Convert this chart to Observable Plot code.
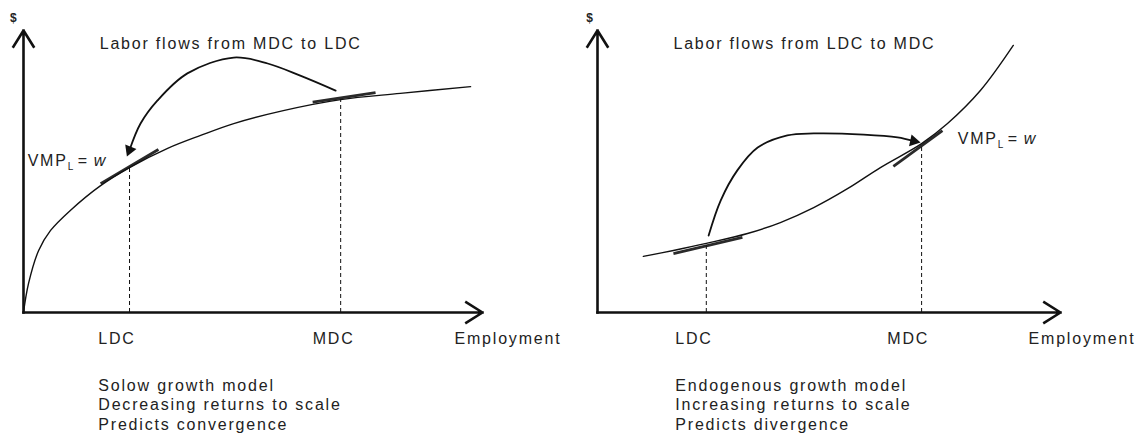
<!DOCTYPE html>
<html>
<head>
<meta charset="utf-8">
<script src="https://cdn.jsdelivr.net/npm/d3@7"></script>
<script src="https://cdn.jsdelivr.net/npm/@observablehq/plot@0.6"></script>
<style>
  html, body { margin: 0; padding: 0; background: #fff; }
  #row { display: flex; width: 1144px; height: 443px; }
</style>
</head>
<body>
<div id="row"></div>
<script>
// ---------- Data (units: employment 0–100 along x, $ 0–100 along y) ----------
const countries = ["LDC", "MDC"];

// Left panel: Solow growth model (decreasing returns, concave VMP_L)
const solowEmployment = [0, 1.1, 3.3, 5.9, 10.2, 16.8, 23.1, 31.4, 38.6, 45.8, 56.6, 69.1, 82.1, 97.4];
const solowWage       = [0, 10.3, 22, 29.1, 36.2, 45, 51.4, 58.2, 62.8, 67, 71.6, 75.5, 77.7, 80.1];
const solowCountryX   = [23.1, 69.1];
const solowCountryY   = [51.4, 75.5];
const solowTangentX1  = [16.8, 63.0];
const solowTangentY1  = [45.7, 74.6];
const solowTangentX2  = [29.4, 76.7];
const solowTangentY2  = [57.8, 78.0];
const solowFlowX      = [68, 60.3, 53.2, 45.8, 35.7, 29.2, 25.5, 23.1];
const solowFlowY      = [78.7, 84, 88.3, 90.4, 84.8, 75.2, 67, 57.6];
const solowLabelX     = [16.3, 63.0];
const solowTitle      = "Labor flows from MDC to LDC";
const solowCaption    = ["Solow growth model", "Decreasing returns to scale", "Predicts convergence"];

// Right panel: Endogenous growth model (increasing returns, convex VMP_L)
const endoEmployment = [9.9, 16.4, 23.5, 32.4, 39.5, 46.7, 54, 61.1, 70, 75.6, 82.7, 89.8];
const endoWage       = [19.9, 22, 24.5, 28, 31.9, 37.2, 43.9, 51.4, 59.9, 67, 78.7, 94.7];
const endoCountryX   = [23.5, 70.0];
const endoCountryY   = [24.5, 59.9];
const endoTangentX1  = [16.4, 63.9];
const endoTangentY1  = [20.9, 51.8];
const endoTangentX2  = [31.3, 74.5];
const endoTangentY2  = [26.6, 64.5];
const endoFlowX      = [24, 26.6, 30.2, 34.6, 41, 46.7, 57.5, 64.8, 68.3];
const endoFlowY      = [27.3, 39.7, 50.4, 58.5, 62.8, 63.5, 63.1, 62.1, 60.8];
const endoLabelX     = [16.8, 62.6];
const endoTitle      = "Labor flows from LDC to MDC";
const endoCaption    = ["Endogenous growth model", "Increasing returns to scale", "Predicts divergence"];

// Shared text
const yAxisLabel = "$";
const xAxisLabel = "Employment";
const vmpParts = ["VMP", "L", "=", "w"];

// ---------- Drawing ----------
const FONT = "'Liberation Sans', Arial, Helvetica, sans-serif";
const INK = "#111";
const TEXT = "#222";

function panel(cfg) {
  const curve = cfg.employment.map((x, i) => ({x, y: cfg.wage[i]}));
  const pts = countries.map((c, i) => ({c, x: cfg.countryX[i], y: cfg.countryY[i], lx: cfg.labelX[i]}));
  const tangents = countries.map((c, i) => ({x1: cfg.tx1[i], y1: cfg.ty1[i], x2: cfg.tx2[i], y2: cfg.ty2[i]}));
  const flow = cfg.flowX.map((x, i) => ({x, y: cfg.flowY[i]}));
  const head = [flow[flow.length - 1]];
  const axes = [{x1: 0, y1: 0, x2: 0, y2: 100}, {x1: 0, y1: 0, x2: 100, y2: 0}];
  const vmp = [{x: cfg.vmpX, y: cfg.vmpY}];
  const fs = 16;

  return Plot.plot({
    width: 572,
    height: 443,
    marginLeft: cfg.mLeft,
    marginRight: cfg.mRight,
    marginTop: 30,
    marginBottom: 131,
    x: {domain: [0, 100], axis: null},
    y: {domain: [0, 100], axis: null},
    style: {fontFamily: FONT, letterSpacing: "1.8px", background: "#fff", overflow: "visible"},
    marks: [
      // tangent (VMP_L = w) segments
      Plot.link(tangents, {x1: "x1", y1: "y1", x2: "x2", y2: "y2", stroke: "#2a2a2a", strokeWidth: 2.8}),
      // VMP_L curve
      Plot.line(curve, {x: "x", y: "y", curve: "catmull-rom", stroke: INK, strokeWidth: 1.4}),
      // dashed drop lines
      Plot.ruleX(pts, {x: "x", y1: 0, y2: "y", stroke: INK, strokeWidth: 1, strokeDasharray: "4,3"}),
      // labor flow arrow
      Plot.line(flow, {x: "x", y: "y", curve: "catmull-rom", stroke: INK, strokeWidth: 1.8}),
      Plot.dot(head, {x: "x", y: "y", symbol: "triangle", r: 4.5, fill: INK, stroke: "none", rotate: cfg.headRotate}),
      // axes
      Plot.arrow(axes, {x1: "x1", y1: "y1", x2: "x2", y2: "y2", stroke: INK, strokeWidth: 2.6, headLength: 11, headAngle: 64, strokeLinecap: "square"}),
      // $ label
      Plot.text([yAxisLabel], {x: cfg.dollarX, y: 104.3, text: d => d, fontSize: 12, fontWeight: "bold", fill: TEXT, textAnchor: "middle", lineAnchor: "middle"}),
      // title
      Plot.text([cfg.title], {x: cfg.titleX, y: 93.3, text: d => d, fontSize: fs, fill: TEXT, textAnchor: "start", lineAnchor: "bottom"}),
      // VMP_L = w
      Plot.text(vmp, {x: "x", y: "y", text: () => vmpParts[0], fontSize: fs, fill: TEXT, textAnchor: "start", lineAnchor: "bottom"}),
      Plot.text(vmp, {x: "x", y: "y", text: () => vmpParts[1], fontSize: 10, fill: TEXT, textAnchor: "start", lineAnchor: "bottom", dx: 40, dy: 4}),
      Plot.text(vmp, {x: "x", y: "y", text: () => vmpParts[2], fontSize: fs, fill: TEXT, textAnchor: "start", lineAnchor: "bottom", dx: 50}),
      Plot.text(vmp, {x: "x", y: "y", text: () => vmpParts[3], fontSize: fs, fill: TEXT, textAnchor: "start", lineAnchor: "bottom", dx: 66, fontStyle: "italic"}),
      // country tick labels
      Plot.text(pts, {x: "lx", y: -11, text: "c", fontSize: fs, fill: TEXT, textAnchor: "start", lineAnchor: "bottom"}),
      // x axis label
      Plot.text([xAxisLabel], {x: cfg.empX, y: -11, text: d => d, fontSize: fs, fill: TEXT, textAnchor: "start", lineAnchor: "bottom"}),
      // caption
      Plot.text([cfg.caption.join("\n")], {x: cfg.labelX[0], y: -22.9, text: d => d, fontSize: fs, fill: TEXT, textAnchor: "start", lineAnchor: "top", lineHeight: 1.22})
    ]
  });
}

const row = document.getElementById("row");
row.appendChild(panel({
  employment: solowEmployment, wage: solowWage,
  countryX: solowCountryX, countryY: solowCountryY, labelX: solowLabelX,
  tx1: solowTangentX1, ty1: solowTangentY1, tx2: solowTangentX2, ty2: solowTangentY2,
  flowX: solowFlowX, flowY: solowFlowY, headRotate: 202,
  title: solowTitle, caption: solowCaption,
  mLeft: 23, mRight: 90,
  dollarX: -2, titleX: 16.6, vmpX: 0.9, vmpY: 52.1, empX: 93.9
}));
row.appendChild(panel({
  employment: endoEmployment, wage: endoWage,
  countryX: endoCountryX, countryY: endoCountryY, labelX: endoLabelX,
  tx1: endoTangentX1, ty1: endoTangentY1, tx2: endoTangentX2, ty2: endoTangentY2,
  flowX: endoFlowX, flowY: endoFlowY, headRotate: 102,
  title: endoTitle, caption: endoCaption,
  mLeft: 25, mRight: 84,
  dollarX: -1.5, titleX: 16.4, vmpX: 77.8, vmpY: 59.9, empX: 93.1
}));
</script>
</body>
</html>
